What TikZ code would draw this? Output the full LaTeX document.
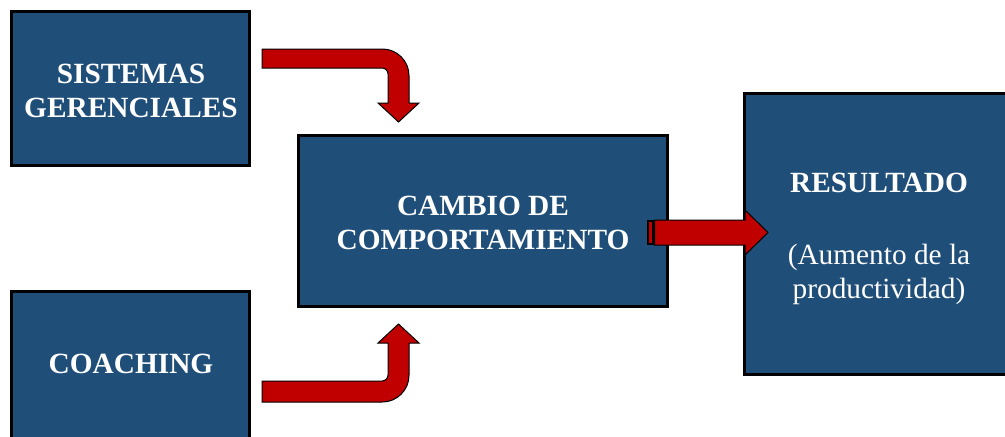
\documentclass[tikz,border=0pt]{standalone}
\usepackage{fontspec}
\setmainfont{Liberation Serif}

\definecolor{azul}{RGB}{31,78,121}
\definecolor{rojo}{RGB}{192,0,0}

\tikzset{
  caja/.style={draw=black, line width=2.25pt, fill=azul, text=white, align=center,
    inner sep=0pt, font=\fontsize{22}{26}\selectfont\bfseries},
  rotulo/.style={text=white, align=center, inner sep=0pt,
    font=\fontsize{22}{26}\selectfont\bfseries},
  flecha/.style={draw=black, fill=rojo, line width=0.75pt, line join=miter},
}

\begin{document}
\begin{tikzpicture}[x=0.75pt, y=-0.75pt]
\path[use as bounding box, clip] (0,0) rectangle (1005,436);

  \node[caja, minimum width=178.5pt, minimum height=115.5pt] (sist) at (130.5,88.5) {}; %
  \node[rotulo] (sist-txt) at (131,91) {SISTEMAS\\GERENCIALES}; %
  \node[caja, minimum width=178.5pt, minimum height=115.5pt] (coach) at (130.5,368.5) {}; %
  \node[rotulo] (coach-txt) at (131,364) {COACHING}; %

  \node[caja, minimum width=276.75pt, minimum height=128.25pt] (cambio) at (483,221) {}; %
  \node[rotulo] (cambio-txt) at (483,223) {CAMBIO DE\\COMPORTAMIENTO}; %

  \node[caja, minimum width=201.75pt, minimum height=210.75pt] (result) at (879,234) {}; %
  \node[rotulo] (result-txt) at (879,239)
    {RESULTADO\\[28pt]\textmd{(Aumento de la}\\\textmd{productividad)}}; %

  % flechas curvas hacia el cambio
  \draw[flecha] ([shift={(11,39)}]sist.north east) [rounded corners=20pt] -- ++(147,0)
    [sharp corners] -- ++(0,54) -- ++(10,0) -- ++(-20.5,19) -- ++(-20.5,-19) -- ++(10,0)
    [rounded corners=4.5pt] -- ++(0,-35) [sharp corners] -- ++(-126,0) -- cycle;

  \draw[flecha] ([shift={(11,112)}]coach.north east) [rounded corners=20pt] -- ++(147,0)
    [sharp corners] -- ++(0,-59) -- ++(10,0) -- ++(-20.5,-19) -- ++(-20.5,19) -- ++(10,0)
    [rounded corners=4.5pt] -- ++(0,38) [sharp corners] -- ++(-126,0) -- cycle;

  % flecha rayada hacia el resultado
  \draw[flecha, line width=1.1pt] ([shift={(-21,0)}]cambio.east) rectangle ++(5,23);
  \draw[flecha] ([shift={(-14.5,-1)}]cambio.east) -- ++(90.5,0) -- ++(0,-10) -- ++(23,22.5)
    -- ++(-23,22.5) -- ++(0,-10) -- ++(-90.5,0) -- cycle;

\end{tikzpicture}
\end{document}
